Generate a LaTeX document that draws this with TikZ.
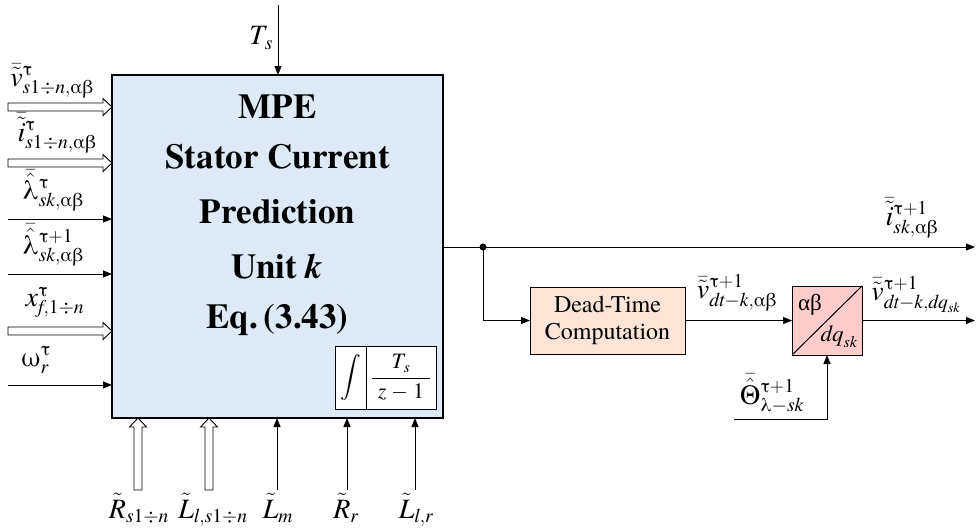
\RequirePackage{fix-cm}
\documentclass[tikz,border=0pt]{standalone}
\usepackage{amsmath}
\usepackage{fontspec}
\IfFontExistsTF{texgyretermes-regular.otf}{%
  \setmainfont{texgyretermes}[Extension=.otf,UprightFont=*-regular,BoldFont=*-bold,ItalicFont=*-italic,BoldItalicFont=*-bolditalic]}{%
  \setmainfont{Liberation Serif}}
\newfontfamily\greekfont{Liberation Serif}
\usetikzlibrary{arrows.meta,calc}
\definecolor{mpeblue}{RGB}{222,233,246}
\definecolor{dtpeach}{RGB}{252,228,214}
\definecolor{abpink}{RGB}{255,204,204}
\newcommand\gk[1]{\text{\upshape #1}}
\newcommand\mi[1]{\mathit{#1}}
\newcommand\harrow[2]{%
  \path ($(#2)!9pt!(#1)$) coordinate (hb);
  \draw[hollowline] ($(#1)!4pt!90:(#2)$) -- ($(hb)!4pt!90:(#2)$) -- ($(hb)!8.5pt!90:(#2)$) -- (#2)
    -- ($(hb)!8.5pt!-90:(#2)$) -- ($(hb)!4pt!-90:(#2)$) -- ($(#1)!4pt!-90:(#2)$) -- cycle;}
\begin{document}
\begin{tikzpicture}[x=1pt,y=-1pt,
  every node/.style={inner sep=0pt, outer sep=0pt},
  lab/.style={font=\fontsize{28}{32}\selectfont},
  bigtxt/.style={font=\fontsize{35}{40}\selectfont\bfseries, anchor=base},
  sarrow/.style={line width=1pt, -{Triangle[length=9pt,width=7pt]}},
  hollowline/.style={line width=0.9pt, fill=white, line join=miter},
  mainbox/.style={draw, line width=1.3pt, fill=mpeblue},
  smallbox/.style={draw, line width=1pt, fill=white},
]
\useasboundingbox (0,0) rectangle (976,531);

% main block
\node[mainbox, minimum width=331pt, minimum height=343pt] (mpe) at (277.5,246.5) {};
\node[bigtxt] (t1) at (277.5,118) {MPE};
\node[bigtxt] (t2) at (277.5,168) {Stator Current};
\node[bigtxt] (t3) at (277.5,223) {Prediction};
\node[bigtxt] (t4) at (277.5,278) {Unit \textit{k}};
\node[bigtxt] (t5) at (277.5,328) {Eq.\,(3.43)};

% integrator
\node[smallbox, minimum width=31pt, minimum height=63pt] (ints) at (350.5,377.5) {\fontsize{21}{24}\selectfont$\displaystyle\int$};
\node[smallbox, minimum width=70pt, minimum height=63pt] (intf) at (401,377.5) {\fontsize{22}{26}\selectfont$\dfrac{\;\mi{T}_{\mi{s}}\;}{\;\mi{z}-\mathrm{1}\;}$};

% left inputs
\coordinate (vin) at (8,107);
\coordinate (iin) at (8,163);
\coordinate (l1in) at (8,219);
\coordinate (l2in) at (8,274);
\coordinate (xin) at (8,331);
\coordinate (win) at (8,385);
\coordinate (vend) at (vin -| mpe.west);
\coordinate (iend) at (iin -| mpe.west);
\coordinate (xend) at (xin -| mpe.west);
\harrow{vin}{vend}
\harrow{iin}{iend}
\harrow{xin}{xend}
\draw[sarrow] (l1in) -- (l1in -| mpe.west);
\draw[sarrow] (l2in) -- (l2in -| mpe.west);
\draw[sarrow] (win) -- (win -| mpe.west);
\node[lab, anchor=south] (vlab) at (52,98) {$\bar{\tilde{\mi{v}}}^{\gk{τ}}_{\mi{s}\mathrm{1}\div\mi{n},\gk{αβ}}$};
\node[lab, anchor=south] (ilab) at (57,153) {$\bar{\tilde{\mi{i}}}^{\gk{τ}}_{\mi{s}\mathrm{1}\div\mi{n},\gk{αβ}}$};
\node[lab, anchor=south] (l1lab) at (53,211) {$\bar{\hat{\gk{λ}}}^{\gk{τ}}_{\mi{sk},\gk{αβ}}$};
\node[lab, anchor=south] (l2lab) at (53,266) {$\bar{\hat{\gk{λ}}}^{\gk{τ}+\mathrm{1}}_{\mi{sk},\gk{αβ}}$};
\node[lab, anchor=south] (xlab) at (55,318) {$\mi{x}^{\gk{τ}}_{\mi{f},\mathrm{1}\div\mi{n}}$};
\node[lab, anchor=south] (wlab) at (36,373) {$\gk{ω}^{\gk{τ}}_{\mi{r}}$};

% top input
\coordinate (tsin) at (278,5);
\draw[sarrow] (tsin) -- (tsin |- mpe.north);
\node[lab, anchor=east] (tslab) at (273,38) {$\mi{T}_{\mi{s}}$};

% bottom inputs
\coordinate (rsin) at (138,490);
\coordinate (lsin) at (209,490);
\coordinate (lmin) at (277,490);
\coordinate (rrin) at (347,490);
\coordinate (lrin) at (415,490);
\coordinate (rsend) at (rsin |- mpe.south);
\coordinate (lsend) at (lsin |- mpe.south);
\harrow{rsin}{rsend}
\harrow{lsin}{lsend}
\draw[sarrow] (lmin) -- (lmin |- mpe.south);
\draw[sarrow] (rrin) -- (rrin |- mpe.south);
\draw[sarrow] (lrin) -- (lrin |- mpe.south);
\node[lab, anchor=base] (rslab) at (139,518) {$\tilde{\mi{R}}_{\mi{s}\mathrm{1}\div\mi{n}}$};
\node[lab, anchor=base] (lslab) at (213,518) {$\tilde{\mi{L}}_{\mi{l},\mi{s}\mathrm{1}\div\mi{n}}$};
\node[lab, anchor=base] (lmlab) at (278,518) {$\tilde{\mi{L}}_{\mi{m}}$};
\node[lab, anchor=base] (rrlab) at (346,518) {$\tilde{\mi{R}}_{\mi{r}}$};
\node[lab, anchor=base] (lrlab) at (416,518) {$\tilde{\mi{L}}_{\mi{l},\mi{r}}$};

% right side
\node[draw, line width=1pt, fill=dtpeach, minimum width=155pt, minimum height=67pt, align=center,
  font=\fontsize{24}{27}\selectfont] (dt) at (607.5,320.5) {Dead-Time\\Computation};
\node[draw, line width=1pt, fill=abpink, minimum width=70pt, minimum height=69pt] (ab) at (827,320.5) {};
\draw[line width=1pt] (ab.south west) -- (ab.north east);
\node[font=\fontsize{23}{26}\selectfont] (abt) at (810,305) {\greekfont αβ};
\node[font=\fontsize{23}{26}\selectfont] (dqt) at (839,337) {$\mi{dq}_{\mi{sk}}$};

\coordinate (outend) at (975,247);
\draw[sarrow] (mpe.east |- outend) -- (outend);
\node[circle, fill, minimum size=7pt] (dot) at (483,247) {};
\draw[sarrow] (dot.center) |- (dt.west);
\draw[sarrow] (dt.east) -- (ab.west);
\coordinate (vout) at (975,320.5);
\draw[sarrow] (ab.east) -- (vout);
\coordinate (thin) at (734,419);
\draw[sarrow] (thin) -| (ab.south);

\node[lab, anchor=south] (ilabout) at (912,238) {$\bar{\tilde{\mi{i}}}^{\gk{τ}+\mathrm{1}}_{\mi{sk},\gk{αβ}}$};
\node[lab, anchor=south] (vdtlab) at (737,311) {$\bar{\tilde{\mi{v}}}^{\gk{τ}+\mathrm{1}}_{\mi{dt}-\mi{k},\gk{αβ}}$};
\node[lab, anchor=south] (vdqlab) at (916,313) {$\bar{\tilde{\mi{v}}}^{\gk{τ}+\mathrm{1}}_{\mi{dt}-\mi{k},\mi{dq}_{\mi{sk}}}$};
\node[lab, anchor=south] (thlab) at (772,413) {$\bar{\hat{\gk{Θ}}}^{\gk{τ}+\mathrm{1}}_{\gk{λ}-\mi{sk}}$};
\end{tikzpicture}
\end{document}
